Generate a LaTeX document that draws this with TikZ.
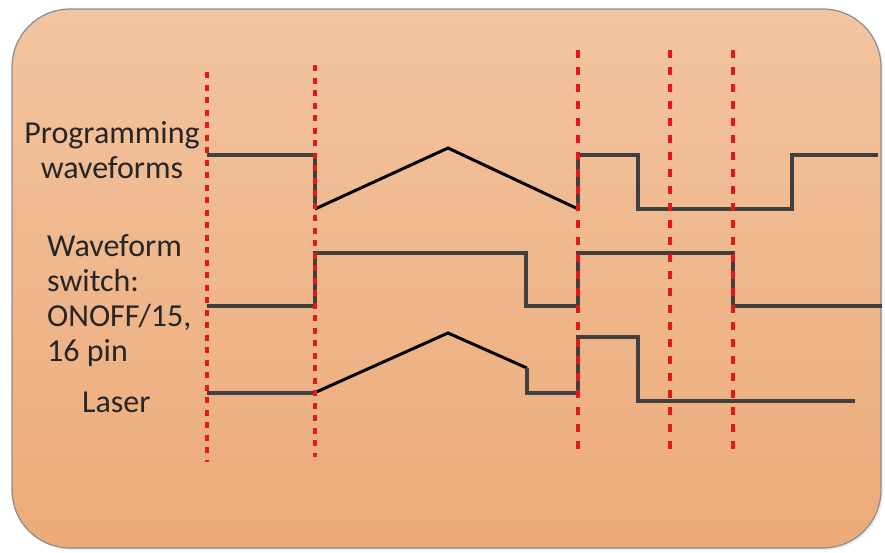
\documentclass[tikz,border=0pt]{standalone}
\usepackage{fontspec}
\setmainfont{Carlito}
\usetikzlibrary{shadows}
\definecolor{panelTop}{RGB}{242,196,160}
\definecolor{panelBottom}{RGB}{236,170,120}
\definecolor{markRed}{RGB}{228,24,24}
\begin{document}
\begin{tikzpicture}[
  x=1pt, y=-1pt,
  font=\fontsize{32}{35}\selectfont,
  panel/.style={draw=black!45, line width=1.2pt, rounded corners=58pt,
                top color=panelTop, bottom color=panelBottom},
  label/.style={inner sep=0pt, text=black!85},
  marker/.style={draw=markRed, line width=3.6pt, dash pattern=on 6pt off 6.5pt},
  markerwide/.style={draw=markRed, line width=4pt, dash pattern=on 8pt off 9pt},
  level/.style={draw=black!75, line width=3.8pt},
  ramp/.style={draw=black, line width=3pt}
]
\useasboundingbox (0,0) rectangle (885,552);
\path[panel, drop shadow={opacity=0.15, shadow xshift=2pt, shadow yshift=-2pt}]
  (12,9) rectangle (881,548);

\node[label, align=center, anchor=base] (proglabel) at (112,178) {Programming\\waveforms};
\node[label, align=left, anchor=base west] (switchlabel) at (47,361) {Waveform\\switch:\\ONOFF/15,\\16 pin};
\node[label, anchor=base west] (laserlabel) at (82,412) {Laser};

% programming waveform
\draw[level] (207,155) -- (315,155) -- (315,209);
\draw[ramp] (315,209) -- (448,148) -- (578,209);
\draw[level] (578,209) -- (578,155) -- (638,155) -- (638,209) -- (792,209) -- (792,155) -- (878,155);

% waveform switch
\draw[level] (207,306) -- (315,306) -- (315,253) -- (526,253) -- (526,306) -- (578,306)
  -- (578,253) -- (733,253) -- (733,306) -- (882,306);

% laser
\draw[level] (207,393) -- (314,393);
\draw[ramp] (314,393) -- (448,333) -- (527,368);
\draw[level] (527,368) -- (527,393) -- (578,393) -- (578,337) -- (638,337) -- (638,401) -- (855,401);

% time markers
\draw[marker] (207,72) -- (207,462);
\draw[marker] (315,65) -- (315,457);
\draw[markerwide] (578,50) -- (578,452);
\draw[markerwide] (670,50) -- (670,457);
\draw[markerwide] (733,50) -- (733,455);
\end{tikzpicture}
\end{document}
